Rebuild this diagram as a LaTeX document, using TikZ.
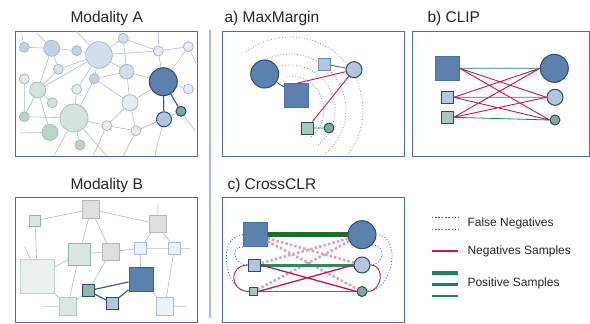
\documentclass[tikz,border=0pt]{standalone}
\usepackage{fontspec}
\setmainfont{Liberation Sans}
\definecolor{boxblue}{HTML}{4A6FA5}
\definecolor{sepblue}{HTML}{A8BEDC}
\definecolor{edgeblue}{HTML}{A9BDD8}
\definecolor{darkedge}{HTML}{3A5F8F}
\definecolor{nodegray}{HTML}{AEB8C4}
\definecolor{darkfill}{HTML}{5B81AF}
\definecolor{darkline}{HTML}{2F4A68}
\definecolor{sqline}{HTML}{4A70A0}
\definecolor{midline}{HTML}{6F8AA8}
\definecolor{midfill}{HTML}{B4C5DE}
\definecolor{tealsq}{HTML}{A8C8BE}
\definecolor{tealdot}{HTML}{7FA898}
\definecolor{tealmid}{HTML}{8FB8A8}
\definecolor{crim}{HTML}{C8174B}
\definecolor{posgreen}{HTML}{1B8064}
\definecolor{bargreen}{HTML}{1E6E2E}
\definecolor{midgreen}{HTML}{2A8C5C}
\definecolor{thingreen}{HTML}{2E8B57}
\definecolor{fnpink}{HTML}{E389A8}
\definecolor{fnblue}{HTML}{3A6AAA}
\definecolor{arcgray}{HTML}{8C8C8C}
% modality A fills
\definecolor{blueA}{HTML}{C4D1E5}
\definecolor{blueB}{HTML}{D2DEEE}
\definecolor{paleblue}{HTML}{E5EBF2}
\definecolor{palegreen}{HTML}{E3EAE9}
\definecolor{greyA}{HTML}{D5E3DE}
\definecolor{greenA}{HTML}{B9D6C5}
% modality B fills
\definecolor{sqgreen}{HTML}{DAE7E1}
\definecolor{sqgreenl}{HTML}{8FB89E}
\definecolor{sqgray}{HTML}{DFDFDF}
\definecolor{sqgrayl}{HTML}{B8B8B8}
\definecolor{sqpale}{HTML}{EDF2F8}
\definecolor{sqpalel}{HTML}{A8BCD8}
\definecolor{sqbig}{HTML}{E9F0EE}
\definecolor{sqbigl}{HTML}{BFD6C8}
\definecolor{sqmist}{HTML}{DDE6E6}
\definecolor{sqmistl}{HTML}{B8C8C8}

\begin{document}
\begin{tikzpicture}[x=1pt,y=-1pt,
    title/.style={anchor=base west,font=\fontsize{15.5}{18}\selectfont,text=black!85},
    legtext/.style={anchor=west,font=\fontsize{12}{14}\selectfont,text=black!85},
    panel/.style={draw=boxblue,line width=0.9pt},
    cnode/.style={circle,draw=nodegray,line width=0.8pt,inner sep=0pt,minimum size=#1},
    snode/.style={rectangle,draw=nodegray,line width=0.8pt,inner sep=0pt,minimum size=#1},
    strong/.style={draw=darkline,line width=1pt},
    web/.style={draw=edgeblue,line width=0.6pt},
    darkweb/.style={draw=darkedge,line width=1.2pt},
    posline/.style={draw=posgreen,line width=0.8pt},
    negline/.style={draw=crim,line width=0.9pt},
    fine dots/.style={line width=1.6pt,dash pattern=on 1.6pt off 1.7pt}]
  \useasboundingbox (0,0) rectangle (590,324);

  % titles and frames
  \node[title] (ta) at (67,22) {Modality A};
  \node[title] (tb) at (67,189.5) {Modality B};
  \node[title] (tm) at (221,22) {a) MaxMargin};
  \node[title] (tc) at (424,22) {b) CLIP};
  \node[title] (tx) at (224,189.5) {c) CrossCLR};
  \draw[panel] (15,31) rectangle (197,156);
  \draw[panel] (15,197) rectangle (197,322);
  \draw[panel] (222,31) rectangle (404,156);
  \draw[panel] (412,31) rectangle (589,156);
  \draw[panel] (222,197) rectangle (404,322);
  \draw[sepblue, line width=1.8pt] (210,30) -- (210,318);

  % Modality A
  \node[cnode=10pt, fill=blueA] (a1) at (24.3,47.3) {};
  \node[cnode=16pt, fill=blueA] (a2) at (51.7,48.3) {};
  \node[cnode=10pt, fill=blueA] (a3) at (76.7,50.7) {};
  \node[cnode=26.6pt, fill=blueB] (a4) at (99,55) {};
  \node[cnode=10pt, fill=blueB] (a5) at (123.3,38.3) {};
  \node[cnode=10pt, fill=paleblue] (a6) at (158.3,51) {};
  \node[cnode=10pt, fill=paleblue] (a7) at (188.3,46.7) {};
  \node[cnode=10pt, fill=blueB] (a8) at (58.3,69.3) {};
  \node[cnode=10pt, fill=blueA] (a9) at (94.3,78.7) {};
  \node[cnode=14.6pt, fill=blueB] (a10) at (126.7,71.7) {};
  \node[cnode=28pt, fill=darkfill, strong] (a11) at (163.3,81.7) {};
  \node[cnode=10pt, fill=palegreen] (a12) at (24.3,79) {};
  \node[cnode=16pt, fill=greyA] (a13) at (37.7,90) {};
  \node[cnode=10pt, fill=palegreen] (a14) at (76.7,89.3) {};
  \node[cnode=10pt, fill=greyA] (a15) at (52.3,102.7) {};
  \node[cnode=16pt, fill=paleblue] (a16) at (130,102.7) {};
  \node[cnode=10pt, fill=paleblue] (a17) at (188.3,89) {};
  \node[cnode=10pt, fill=greenA] (a18) at (24.3,116.7) {};
  \node[cnode=28pt, fill=greyA] (a19) at (74,118) {};
  \node[cnode=10pt, fill=palegreen] (a20) at (106.7,125.7) {};
  \node[cnode=10pt, fill=palegreen] (a21) at (136,130.7) {};
  \node[cnode=15pt, fill=midfill, strong] (a22) at (164,119.3) {};
  \node[cnode=10pt, fill=tealdot, strong] (a23) at (181,111.3) {};
  \node[cnode=16pt, fill=greenA] (a24) at (50,132.3) {};
  \node[cnode=10pt, fill=greenA] (a25) at (80,145) {};
  \coordinate (ea1) at (36.7,33);
  \coordinate (ea2) at (21.7,34);
  \coordinate (ea3) at (158.3,33);
  \coordinate (ea4) at (196,63);
  \coordinate (ea5) at (20,133);
  \coordinate (ea6) at (54,156);
  \coordinate (ea7) at (106.7,156);
  \coordinate (ea8) at (155,155);
  \coordinate (ea9) at (195,131);
  \coordinate (ea10) at (123.3,156);
  \coordinate (ea11) at (93.3,156);
  \coordinate (ea12) at (76,31);
  \draw[web] (a1) -- (a2) (a2) -- (a3) (a3) -- (a4) (a2) -- (a8) (a8) -- (a4)
    (a8) -- (a13) (a2) -- (a13) (a12) -- (a18) (a13) -- (a4) (a13) -- (a15)
    (a13) -- (a18) (a13) -- (a24) (a18) -- (a19) (a19) -- (a25) (a19) -- (a20)
    (a19) -- (a9) (a19) -- (a14) (a14) -- (a4) (a9) -- (a4) (a5) -- (a4)
    (a5) -- (a10) (a5) -- (a6) (a4) -- (a6) (a6) -- (a7) (a6) -- (a11)
    (a7) -- (a11) (a10) -- (a11) (a4) -- (a10) (a10) -- (a16) (a9) -- (a10)
    (a9) -- (a16) (a16) -- (a20) (a16) -- (a21) (a16) -- (a11) (a11) -- (a17)
    (a21) -- (a20) (a21) -- (a22) (a21) -- (a23);
  \draw[web] (a2) -- (ea1) (a1) -- (ea2) (a6) -- (ea3) (a7) -- (ea4)
    (a24) -- (ea5) (a19) -- (ea6) (a19) -- (ea7) (a22) -- (ea8) (a23) -- (ea9)
    (a21) -- (ea10) (a20) -- (ea11) (a4) -- (ea12);
  \draw[darkweb] (a11) -- (a22) (a11) -- (a23);

  % Modality B
  \node[snode=11.3pt, fill=sqgreen, draw=sqgreenl] (b1) at (35,220.7) {};
  \node[snode=17.3pt, fill=sqgray, draw=sqgrayl] (b2) at (91,209.3) {};
  \node[snode=17.3pt, fill=sqgray, draw=sqgrayl] (b3) at (157.7,224) {};
  \node[snode=22pt, fill=sqgreen, draw=sqgreenl] (b4) at (79.3,254) {};
  \node[snode=17.3pt, fill=sqgray, draw=sqgrayl] (b5) at (110.7,251.7) {};
  \node[snode=12pt, fill=sqpale, draw=sqpalel] (b6) at (140,248.3) {};
  \node[snode=12pt, fill=sqpale, draw=sqpalel] (b7) at (174.3,248.3) {};
  \node[snode=34pt, fill=sqbig, draw=sqbigl] (b8) at (37.3,276) {};
  \node[snode=24pt, fill=darkfill, draw=darkedge, line width=1pt] (b9) at (141,279.3) {};
  \node[snode=12pt, fill=tealmid, strong, line width=1.4pt] (b10) at (88.3,290.7) {};
  \node[snode=12pt, fill=midfill, strong] (b11) at (112.3,303.3) {};
  \node[snode=17.3pt, fill=sqmist, draw=sqmistl] (b12) at (67.7,306.3) {};
  \node[snode=17.3pt, fill=sqpale, draw=sqpalel] (b13) at (165,306.3) {};
  \coordinate (eb1) at (158,204);
  \coordinate (eb2) at (190,248.3);
  \coordinate (eb3) at (25,246.7);
  \coordinate (eb4) at (43.3,306.3);
  \coordinate (eb5) at (186.7,306.3);
  \draw[web] (b1) -- (b2) (b1) -- (b8) (b2) -- (b4) (b2) -- (b3) (b2) -- (b5)
    (b3) -- (b6) (b3) -- (b7) (b4) -- (b5) (b4) -- (b8) (b4) -- (b12)
    (b5) -- (b6) (b6) -- (b7) (b6) -- (b9) (b7) -- (b13) (b8) -- (b12)
    (b9) -- (b13) (b5) -- (b10) (b10) -- (b12);
  \draw[web] (b3) -- (eb1) (b7) -- (eb2) (b8) -- (eb3) (b12) -- (eb4) (b13) -- (eb5);
  \draw[darkweb] (b9) -- (b10) (b10) -- (b11) (b11) -- (b9);

  % a) MaxMargin
  \draw[arcgray, dotted, line width=0.8pt] (290,110) ++(-96:34) arc[start angle=-96, end angle=52, radius=34];
  \draw[arcgray, dotted, line width=0.8pt] (290,110) ++(-107:45) arc[start angle=-107, end angle=52, radius=45];
  \draw[arcgray, dotted, line width=0.8pt] (290,110) ++(-117:56) arc[start angle=-117, end angle=50, radius=56];
  \draw[arcgray, dotted, line width=0.8pt] (290,110) ++(-127:73) arc[start angle=-127, end angle=38, radius=73];
  \node[cnode=28pt, fill=darkfill, strong] (mbigc) at (264.7,74) {};
  \node[snode=24pt, fill=darkfill, draw=sqline] (mbigs) at (296.7,95.7) {};
  \node[snode=12pt, fill=midfill, draw=midline] (ms2) at (324.7,64) {};
  \node[cnode=16pt, fill=midfill, strong] (mc2) at (354,69.7) {};
  \node[snode=12pt, fill=tealsq, strong] (ms3) at (307.3,128) {};
  \node[cnode=10pt, fill=tealdot, strong] (mc3) at (329,128) {};
  \draw[posline] (mbigc) -- (mbigs) (ms2) -- (mc2) (ms3) -- (mc3);
  \draw[negline] (mc2) -- (mbigs.north) (mc2) -- (ms3);

  % b) CLIP
  \node[snode=24pt, fill=darkfill, draw=sqline] (cbigs) at (447.3,68.3) {};
  \node[cnode=28pt, fill=darkfill, strong] (cbigc) at (554.3,68.3) {};
  \node[snode=12pt, fill=midfill, strong] (cs2) at (447.3,97.3) {};
  \node[cnode=16pt, fill=midfill, strong] (cc2) at (555,97.3) {};
  \node[snode=12pt, fill=tealsq, strong] (cs3) at (447.3,117.3) {};
  \node[cnode=10pt, fill=tealdot, strong] (cc3) at (555,120) {};
  \draw[posline] (cbigs.east) -- (cbigc.west) (cs2.east) -- (cc2.west) (cs3.east) -- (cc3.west);
  \draw[negline] (cbigs.east) -- (cc2.west) (cbigs.east) -- (cc3.west)
    (cs2.east) -- (cbigc.west) (cs2.east) -- (cc3.west)
    (cs3.east) -- (cbigc.west) (cs3.east) -- (cc2.west);

  % c) CrossCLR
  \node[snode=24pt, fill=darkfill, draw=sqline] (xbigs) at (255.3,234.7) {};
  \node[cnode=28pt, fill=darkfill, strong] (xbigc) at (362,234.7) {};
  \node[snode=12pt, fill=midfill, strong] (xs2) at (254.7,265) {};
  \node[cnode=16pt, fill=midfill, strong] (xc2) at (362,265) {};
  \node[snode=8pt, fill=tealsq, strong] (xs3) at (253.7,291.5) {};
  \node[cnode=10pt, fill=tealdot, strong] (xc3) at (362,291.5) {};
  \draw[fnpink, line width=2.6pt, dash pattern=on 2.4pt off 2.2pt, opacity=0.85]
    (xbigs) -- (xc2) (xbigs) -- (xc3) (xbigc) -- (xs2) (xbigc) -- (xs3);
  \draw[bargreen, line width=5pt] (xbigs.east) -- (xbigc.west);
  \draw[midgreen, line width=3pt] (xs2.east) -- (xc2.west);
  \draw[thingreen, line width=1.2pt] (xs3.east) -- (xc3.west);
  \draw[negline, line width=1.3pt] (xs2.east) -- (xc3.west) (xs3.east) -- (xc2.west);
  \draw[negline] (xs2.west) .. controls +(-20,0) and +(-20,0) .. (xs3.west);
  \draw[negline] (xc2.east) .. controls +(15,0) and +(15,0) .. (xc3.east);
  \draw[fnblue, dotted, line width=0.9pt] (xbigs.west) .. controls +(-26,0) and +(-26,0) .. (xs3.west);
  \draw[fnblue, dotted, line width=0.9pt] (xbigs.south west) .. controls +(-14,0) and +(-14,0) .. (xs2.west);
  \draw[fnblue, dotted, line width=0.9pt] (xbigc.east) .. controls +(26,0) and +(26,0) .. (xc3.east);
  \draw[fnblue, dotted, line width=0.9pt] (xbigc.south east) .. controls +(14,0) and +(14,0) .. (xc2.east);

  % legend
  \draw[crim, fine dots] (431.7,217.3) -- (458.3,217.3);
  \draw[fnblue, fine dots] (431.7,229.3) -- (458.3,229.3);
  \draw[crim, line width=1.4pt] (431.7,251) -- (458.3,251);
  \draw[posgreen, line width=4pt] (431.7,273.3) -- (458.3,273.3);
  \draw[posgreen, line width=2.5pt] (431.7,284.3) -- (458.3,284.3);
  \draw[posgreen, line width=1.2pt] (431.7,296) -- (458.3,296);
  \node[legtext] (lfn) at (464,223.3) {False Negatives};
  \node[legtext] (lneg) at (464,251) {Negatives Samples};
  \node[legtext] (lpos) at (464,283.3) {Positive Samples};
\end{tikzpicture}
\end{document}
